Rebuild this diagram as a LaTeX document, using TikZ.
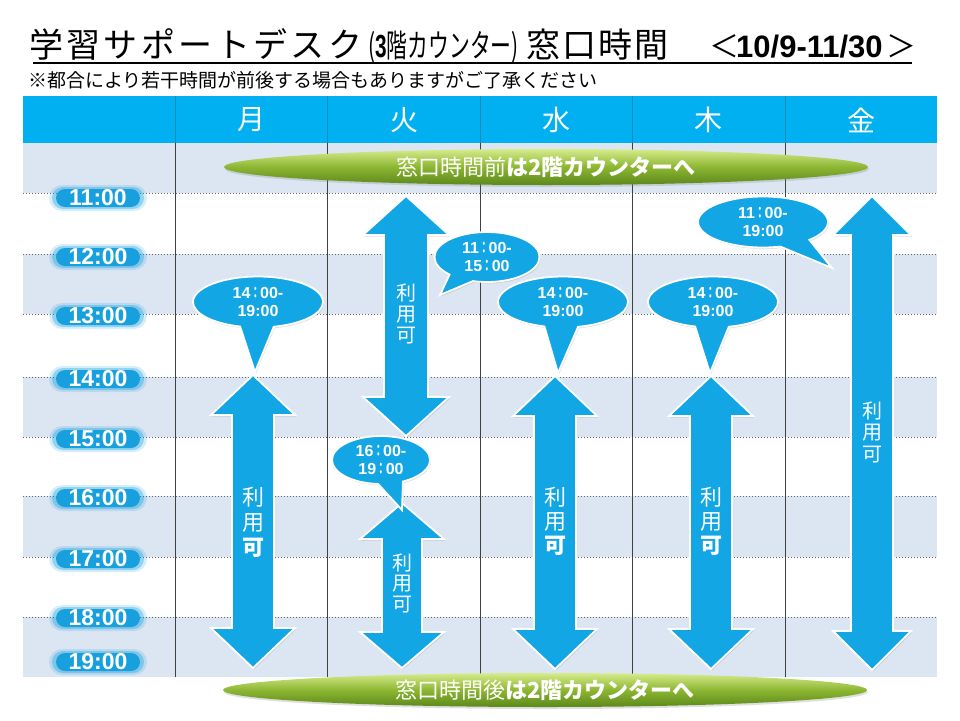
\documentclass[tikz,border=0pt]{standalone}
\usepackage{fontspec}
\setmainfont{Noto Sans CJK JP}
\newfontfamily\arialfont{Liberation Sans}
\usepackage{tikz}
\usetikzlibrary{positioning,shapes.geometric,shapes.callouts,shadows}
\definecolor{headblue}{RGB}{0,176,240}
\definecolor{bandblue}{RGB}{220,230,242}
\definecolor{arrowblue}{RGB}{18,166,228}
\definecolor{tagblue}{RGB}{24,160,222}
\definecolor{leaflight}{RGB}{215,236,140}
\definecolor{leafmid}{RGB}{140,182,50}
\definecolor{leafdark}{RGB}{92,136,28}
\newcommand{\setfs}[2]{\fontsize{#1}{#2}\selectfont}
\newcommand{\wcolon}{{\rmfamily\scalebox{0.6}[1]{：}}}
\tikzstyle{band}      = [fill=bandblue]
\tikzstyle{hourline}  = [black!60, line width=0.8pt, dash pattern=on 1pt off 2pt]
\tikzstyle{colline}   = [black!75, line width=0.8pt]
\tikzstyle{dayhead}   = [text=white, font=\setfs{28}{28}, inner sep=0pt]
\tikzstyle{hourtag}   = [text=white, font=\arialfont\bfseries\setfs{23}{23}, inner sep=0pt]
\tikzstyle{avail}     = [fill=arrowblue, draw=white, line width=1.8pt,
                         drop shadow={opacity=0.25, shadow xshift=1pt, shadow yshift=-1.5pt}]
\tikzstyle{availtext} = [text=white, align=center, inner sep=0pt]
\tikzstyle{bubble}    = [ellipse callout, callout pointer arc=30, fill=arrowblue, draw=white,
                         line width=1.8pt, text=white, align=center, inner sep=0pt,
                         font=\arialfont\bfseries\setfs{16}{18},
                         drop shadow={opacity=0.25, shadow xshift=1pt, shadow yshift=-1.5pt}]
\tikzstyle{leaf}      = [ellipse, minimum width=644pt, minimum height=36pt, inner sep=0pt,
                         top color=leaflight, bottom color=leafdark, middle color=leafmid,
                         text=white, font=\setfs{22}{22},
                         drop shadow={opacity=0.25, shadow xshift=1pt, shadow yshift=-2pt}]
\begin{document}
\begin{tikzpicture}[x=1pt,y=-1pt]
    \useasboundingbox (0,0) rectangle (960,720);

    % title
    \node[anchor=base west, inner sep=0pt] (ttl) at (29,57)
        {\setfs{34}{34}\addfontfeature{LetterSpace=10}学習サポートデスク};
    \node[anchor=base west, inner sep=0pt] (ttlsub) at (368,57)
        {\scalebox{0.65}[1]{\setfs{32}{32}({\arialfont\bfseries 3}階カウンター)}};
    \node[anchor=base west, inner sep=0pt] (ttlend) at (526,57)
        {\setfs{34}{34}\addfontfeature{LetterSpace=6}窓口時間};
    \node[anchor=base, inner sep=0pt] (lt) at (724,57) {\setfs{30}{30}＜};
    \node[anchor=base west, inner sep=0pt] (period) at (736,57)
        {\arialfont\bfseries\setfs{31}{31}10/9-11/30};
    \node[anchor=base, inner sep=0pt] (gt) at (901,57) {\setfs{30}{30}＞};
    \draw[line width=1.5pt] (33,63) -- (912,63);
    \node[anchor=base west, inner sep=0pt] (note) at (28,87)
        {\setfs{19}{19}※都合により若干時間が前後する場合もありますがご了承ください};

    % table
    \foreach \ya/\yb in {143/193,254/314,377/437,496/557,617/677}
        \fill[band] (23,\ya) rectangle (937,\yb);
    \fill[headblue] (23,96) rectangle (937,143);
    \foreach \y in {193,254,314,377,437,496,557,617}
        \draw[hourline] (23,\y) -- (937,\y);
    \foreach \x in {175,327.5,480,632,785} {
        \draw[colline] (\x,143) -- (\x,677);
        \draw[colline, opacity=.3] (\x,96) -- (\x,143);
    }
    \foreach \d/\x/\n in {月/251/mon,火/404/tue,水/556/wed,木/708/thu,金/861/fri}
        \node[dayhead] (\n) at (\x,120) {\d};

    % hours
    \foreach \h/\y in {11/198,12/257,13/316,14/379,15/439,16/498,17/559,18/618,19/662} {
        \fill[tagblue, opacity=.18, rounded corners=13pt] (49,\y-13) rectangle (147,\y+13);
        \fill[tagblue, opacity=.35, rounded corners=11pt] (52,\y-11) rectangle (144,\y+11);
        \fill[tagblue, rounded corners=9pt] (56,\y-9) rectangle (140,\y+9);
        \node[hourtag] (h\h) at (98,\y) {\h:00};
    }

    % arrows
    \foreach \cx/\ya/\yb/\hw/\hh/\sw in {253/375/668/42/40/21, 406/196/436/43/39/22,
            402/503/668/42/36/20, 555/376/669/42/40/21, 711/376/669/42/40/21, 872/196/670/39/39/21}
        \draw[avail] (\cx,\ya) -- (\cx+\hw,\ya+\hh) -- (\cx+\sw,\ya+\hh) -- (\cx+\sw,\yb-\hh)
            -- (\cx+\hw,\yb-\hh) -- (\cx,\yb) -- (\cx-\hw,\yb-\hh) -- (\cx-\sw,\yb-\hh)
            -- (\cx-\sw,\ya+\hh) -- (\cx-\hw,\ya+\hh) -- cycle;
    \node[availtext, font=\setfs{22}{25}] (monuse) at (253,522) {利\\用\\{\bfseries 可}};
    \node[availtext, font=\setfs{20}{21}] (tueuse) at (406,314) {利\\用\\可};
    \node[availtext, font=\setfs{20}{20.5}] (tueuse2) at (402,583) {利\\用\\可};
    \node[availtext, font=\setfs{22}{24}] (weduse) at (555,521) {利\\用\\{\bfseries 可}};
    \node[availtext, font=\setfs{22}{24}] (thuuse) at (711,521) {利\\用\\{\bfseries 可}};
    \node[availtext, font=\setfs{20}{21.5}] (friuse) at (872,432) {利\\用\\可};

    % callouts
    \node[bubble, minimum width=130pt, minimum height=51pt,
          callout absolute pointer={(255,372)}] (monb) at (258,302) {14\wcolon 00-\\19:00};
    \node[bubble, minimum width=105pt, minimum height=50pt,
          callout absolute pointer={(440,295)}] (tueb) at (487,257) {11\wcolon 00-\\15\wcolon 00};
    \node[bubble, minimum width=98pt, minimum height=48pt,
          callout absolute pointer={(402,510)}] (tueb2) at (381,460) {16\wcolon 00-\\19\wcolon 00};
    \node[bubble, minimum width=130pt, minimum height=51pt,
          callout absolute pointer={(558,373)}] (wedb) at (563,302) {14\wcolon 00-\\19:00};
    \node[bubble, minimum width=130pt, minimum height=51pt,
          callout absolute pointer={(710,373)}] (thub) at (713,302) {14\wcolon 00-\\19:00};
    \node[bubble, minimum width=130pt, minimum height=51pt,
          callout absolute pointer={(832,268)}] (frib) at (763,222) {11\wcolon 00-\\19:00};

    % desk notes
    \node[leaf] (before) at (546,167) {窓口時間前{\bfseries は2階カウンターへ}};
    \node[leaf, minimum height=34pt] (after) at (545,690) {窓口時間後{\bfseries は2階カウンターへ}};
\end{tikzpicture}
\end{document}
